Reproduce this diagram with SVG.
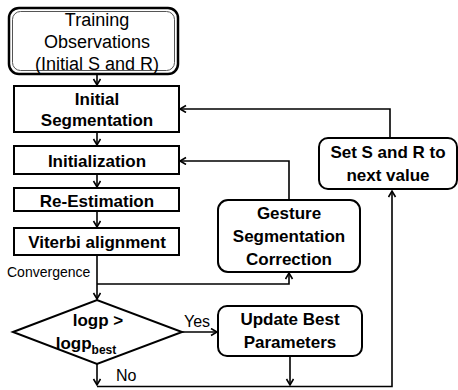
<svg xmlns="http://www.w3.org/2000/svg" width="458" height="390" viewBox="0 0 458 390">
<defs>
<marker id="ah" markerWidth="10" markerHeight="10" refX="7" refY="4" orient="auto" markerUnits="userSpaceOnUse">
<path d="M1,0.5 L7,4 L1,7.5" fill="none" stroke="#000" stroke-width="1.6"/>
</marker>
<style>
.box{fill:#fff;stroke:#000;stroke-width:2}
.b{font-family:"Liberation Sans",Arial,sans-serif;font-weight:bold;font-size:17px;text-anchor:middle;fill:#000}
.r{font-family:"Liberation Sans",Arial,sans-serif;font-size:18px;text-anchor:middle;fill:#000}
.lbl{font-family:"Liberation Sans",Arial,sans-serif;fill:#000}
.c{fill:none;stroke:#000;stroke-width:1.6}
</style>
</defs>
<rect width="458" height="390" fill="#fff"/>
<g id="connectors">
<path class="c" d="M97,74 V85" marker-end="url(#ah)"/>
<path class="c" d="M97,132 V145" marker-end="url(#ah)"/>
<path class="c" d="M97,174 V187" marker-end="url(#ah)"/>
<path class="c" d="M97,211 V227" marker-end="url(#ah)"/>
<path class="c" d="M97,255 V299" marker-end="url(#ah)"/>
<path class="c" d="M97,284 H289 V273" marker-end="url(#ah)"/>
<path class="c" d="M289,200 V161 H180" marker-end="url(#ah)"/>
<path class="c" d="M182,332 H217" marker-end="url(#ah)"/>
<path class="c" d="M290,356 V385" marker-end="url(#ah)"/>
<path class="c" d="M97,364 V385" marker-end="url(#ah)"/>
<path class="c" d="M97,386.5 H392 V191" marker-end="url(#ah)"/>
<path class="c" d="M390,138 V109 H180" marker-end="url(#ah)"/>
</g>
<g id="training">
<rect x="9" y="8" width="169" height="66" rx="10" fill="#fff" stroke="#000" stroke-width="2.5"/>
<rect x="12.5" y="11.5" width="162" height="59" rx="8" fill="none" stroke="#555" stroke-width="1"/>
<text class="r" x="97" y="26">Training</text>
<text class="r" x="97" y="48">Observations</text>
<text class="r" x="97" y="70">(Initial S and R)</text>
</g>
<g id="initial-segmentation">
<rect class="box" x="14" y="86" width="165" height="46"/>
<text class="b" x="97" y="105">Initial</text>
<text class="b" x="97" y="126">Segmentation</text>
</g>
<g id="initialization">
<rect class="box" x="14" y="146" width="165" height="28"/>
<text class="b" x="97" y="167">Initialization</text>
</g>
<g id="re-estimation">
<rect class="box" x="14" y="188" width="165" height="23"/>
<text class="b" x="97" y="207">Re-Estimation</text>
</g>
<g id="viterbi">
<rect class="box" x="14" y="228" width="165" height="27"/>
<text class="b" x="97" y="248">Viterbi alignment</text>
</g>
<g id="convergence-label">
<text class="lbl" x="7" y="277" font-size="14">Convergence</text>
</g>
<g id="decision">
<path d="M13,332 L97,300 L182,332 L97,364 Z" fill="#fff" stroke="#000" stroke-width="2"/>
<text class="b" x="98" y="326">logp &gt;</text>
<text class="b" x="86" y="349">logp<tspan font-size="12" dy="5">best</tspan></text>
</g>
<g id="yes-label"><text class="lbl" x="184" y="327" font-size="16">Yes</text></g>
<g id="no-label"><text class="lbl" x="116" y="381" font-size="16">No</text></g>
<g id="update-best">
<rect class="box" x="218" y="306" width="144" height="50" rx="9"/>
<text class="b" x="290" y="325">Update Best</text>
<text class="b" x="290" y="348">Parameters</text>
</g>
<g id="gesture">
<rect class="box" x="218" y="200" width="142" height="72" rx="10"/>
<text class="b" x="289" y="219">Gesture</text>
<text class="b" x="289" y="242">Segmentation</text>
<text class="b" x="289" y="265">Correction</text>
</g>
<g id="set-s-r">
<rect class="box" x="319" y="138" width="138" height="51" rx="9"/>
<text class="b" x="388" y="158">Set S and R to</text>
<text class="b" x="388" y="181">next value</text>
</g>
</svg>
